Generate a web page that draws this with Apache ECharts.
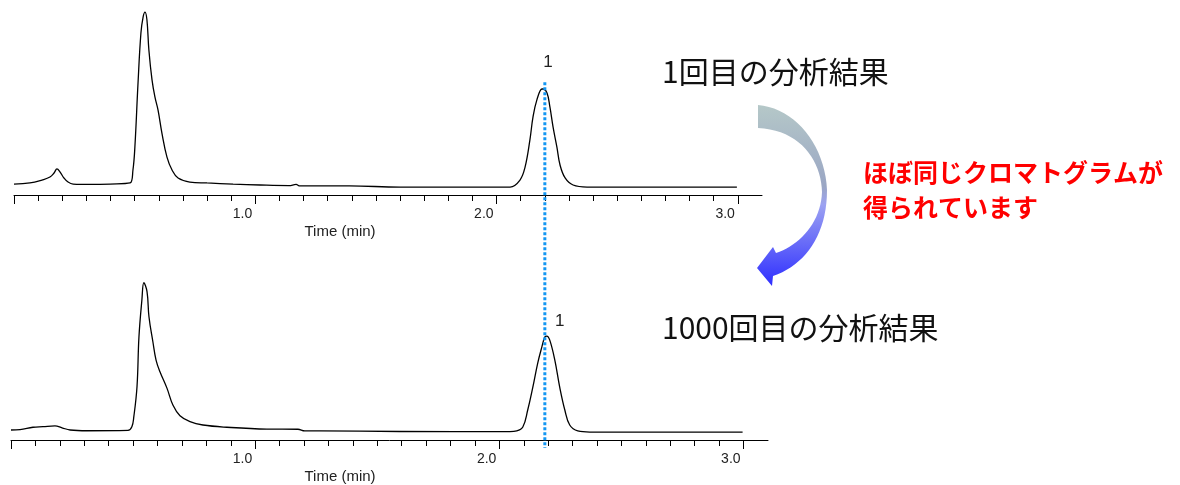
<!DOCTYPE html>
<html>
<head>
<meta charset="utf-8">
<script src="https://cdn.jsdelivr.net/npm/echarts@6/dist/echarts.min.js"></script>
<style>
html, body { margin: 0; padding: 0; background: #fff; }
#main { width: 1180px; height: 485px; }
</style>
</head>
<body>
<div id="main"></div>
<script>
// 1回目の分析 (時間 min / 信号)
var run1Time = [0.000, 0.066, 0.116, 0.149, 0.166, 0.178, 0.191, 0.207, 0.224, 0.245, 0.315, 0.398,
	0.481, 0.493, 0.501, 0.514, 0.526, 0.535, 0.543, 0.551, 0.559, 0.572, 0.584, 0.597, 0.613, 0.634,
	0.655, 0.680, 0.729, 0.800, 0.908, 1.020, 1.140, 1.169, 1.185, 1.390, 1.600, 2.010, 2.056, 2.097,
	2.118, 2.138, 2.151, 2.167, 2.188, 2.192, 2.209, 2.221, 2.234, 2.250, 2.263, 2.284, 2.317, 2.375, 2.996]
var run1Signal = [5.9, 6.5, 8.1, 9.7, 11.9, 14.1, 12.4, 9.2, 7.0, 5.9, 5.7, 5.9,
	6.5, 13.5, 25.9, 60.5, 87.6, 96.2, 98.9, 94.6, 78.4, 62.2, 53.0, 45.9, 33.5, 20.5,
	13.5, 9.2, 7.0, 6.5, 5.9, 5.4, 5.1, 5.7, 4.9, 4.9, 4.3, 4.3, 4.3, 8.1,
	15.1, 29.7, 42.2, 51.4, 57.3, 57.3, 55.1, 47.6, 36.8, 25.9, 16.2, 9.2, 5.4, 4.3, 4.3]

// 1000回目の分析
var run1000Time = [0.000, 0.037, 0.090, 0.131, 0.180, 0.209, 0.242, 0.311, 0.479, 0.495, 0.503, 0.516,
	0.524, 0.536, 0.544, 0.557, 0.565, 0.581, 0.594, 0.610, 0.639, 0.663, 0.692, 0.733, 0.786, 0.884,
	1.048, 1.175, 1.203, 1.265, 1.592, 2.043, 2.071, 2.096, 2.116, 2.137, 2.157, 2.174, 2.186, 2.194,
	2.206, 2.227, 2.247, 2.268, 2.288, 2.321, 2.370, 2.996]
var run1000Signal = [5.4, 5.6, 6.9, 7.2, 7.6, 6.6, 5.4, 5.0, 5.2, 7.2, 12.6, 28.8,
	55.8, 75.7, 85.0, 80.2, 66.6, 53.1, 43.2, 36.9, 27.9, 18.9, 13.1, 9.9, 8.1, 6.9,
	5.9, 5.8, 4.9, 4.9, 4.6, 4.5, 4.9, 7.0, 16.2, 28.6, 41.6, 50.3, 55.7, 56.2,
	54.1, 43.2, 28.6, 16.2, 8.1, 4.9, 4.3, 4.3]

// 目盛り
var majorTicks = [0, 1, 2, 3]
var tickLabels = [1, 2, 3]
var minorTicks = []
for (var i = 1; i < 30; i++) {
	if (i % 10 !== 0) minorTicks.push(i / 10)
}

// ピーク1
var peakLabel = '1'
var peak1 = [2.192, 57.3]
var peak1000 = [2.194, 56.2]
var peakLine = 2.2

function zip(a, b) {
	return a.map(function (v, i) { return [v, b[i]] })
}

function majorAxis(gridIndex, namePad) {
	return {
		type: 'value',
		gridIndex: gridIndex,
		position: 'bottom',
		min: 0,
		max: 3.1,
		axisLine: { show: true, onZero: false, lineStyle: { color: '#000', width: 1 } },
		axisTick: { show: true, customValues: majorTicks, length: 9, lineStyle: { color: '#000' } },
		axisLabel: {
			customValues: tickLabels,
			formatter: function (v) { return v.toFixed(1) },
			align: 'right',
			padding: [0, 3, 0, 0],
			margin: 12,
			fontSize: 14,
			color: '#222',
			fontFamily: 'Liberation Sans',
		},
		splitLine: { show: false },
		name: 'Time (min)',
		nameLocation: 'middle',
		nameGap: 29,
		nameTextStyle: { fontSize: 15, color: '#222', fontFamily: 'Liberation Sans', padding: [0, namePad, 0, 0] },
	}
}

function minorAxis(gridIndex) {
	return {
		type: 'value',
		gridIndex: gridIndex,
		position: 'bottom',
		min: 0,
		max: 3.1,
		axisLine: { show: false },
		axisTick: { show: true, customValues: minorTicks, length: 6, lineStyle: { color: '#000' } },
		axisLabel: { show: false },
		splitLine: { show: false },
	}
}

function trace(data, xi, yi, peak, offset) {
	return {
		type: 'line',
		xAxisIndex: xi,
		yAxisIndex: yi,
		data: data,
		showSymbol: false,
		smooth: 0.4,
		lineStyle: { color: '#000', width: 1.3 },
		markPoint: {
			symbol: 'circle',
			symbolSize: 0,
			label: {
				show: true,
				position: 'inside',
				formatter: peakLabel,
				offset: offset,
				fontSize: 17,
				color: '#222',
				fontFamily: 'Liberation Sans',
			},
			data: [{ coord: peak }],
		},
	}
}

var chart = echarts.init(document.getElementById('main'))
chart.setOption({
	animation: false,
	backgroundColor: '#fff',
	grid: [
		{ left: 14, right: 418, top: 10, height: 185 },
		{ left: 11, right: 412, top: 255, height: 185 },
	],
	xAxis: [majorAxis(0, 96), minorAxis(0), majorAxis(1, 99), minorAxis(1)],
	yAxis: [
		{ type: 'value', gridIndex: 0, min: 0, max: 100, show: false },
		{ type: 'value', gridIndex: 1, min: 0, max: 100, show: false },
	],
	series: [
		trace(zip(run1Time, run1Signal), 0, 0, peak1, [5, -27]),
		trace(zip(run1000Time, run1000Signal), 2, 1, peak1000, [13, -15]),
	],
})

// 曲がった矢印の輪郭 (ベジェ曲線を点に分ける)
function bezier(p0, p1, p2, p3, n) {
	var pts = []
	for (var k = 0; k <= n; k++) {
		var t = k / n, u = 1 - t
		pts.push([
			u * u * u * p0[0] + 3 * u * u * t * p1[0] + 3 * u * t * t * p2[0] + t * t * t * p3[0],
			u * u * u * p0[1] + 3 * u * u * t * p1[1] + 3 * u * t * t * p2[1] + t * t * t * p3[1],
		])
	}
	return pts
}
var arrowPoints = [].concat(
	bezier([758, 105], [795, 108], [825, 145], [827, 190], 20),
	bezier([827, 190], [827, 235], [805, 265], [773, 276], 20),
	[[772, 286], [757, 268], [773, 247], [776, 253]],
	bezier([776, 253], [800, 245], [821, 222], [822, 192], 20),
	bezier([822, 192], [821, 160], [800, 130], [758, 128], 20)
)

// 点線と注釈
var lineX = chart.convertToPixel({ xAxisIndex: 0 }, peakLine)
var lineTop = chart.convertToPixel({ yAxisIndex: 0 }, 61)
var lineBottom = chart.convertToPixel({ yAxisIndex: 1 }, 0) + 8

chart.setOption({
	graphic: [
		{
			type: 'line',
			shape: { x1: lineX, y1: lineTop, x2: lineX, y2: lineBottom },
			style: { stroke: '#1396F2', lineWidth: 3, lineDash: [3, 2] },
			z: 10,
		},
		{
			type: 'polygon',
			shape: { points: arrowPoints },
			style: {
				fill: {
					type: 'linear',
					x: 0, y: 0, x2: 0, y2: 1,
					colorStops: [
						{ offset: 0, color: '#B5C8C8' },
						{ offset: 0.45, color: '#9AA6C4' },
						{ offset: 0.55, color: '#9CA2F2' },
						{ offset: 1, color: '#2E2EFF' },
					],
				},
			},
		},
		{
			type: 'text',
			style: { x: 662, y: 72, text: '1回目の分析結果', fill: '#111', font: '30px "Noto Sans CJK JP"', verticalAlign: 'middle' },
		},
		{
			type: 'text',
			style: { x: 662, y: 328, text: '1000回目の分析結果', fill: '#111', font: '30px "Noto Sans CJK JP"', verticalAlign: 'middle' },
		},
		{
			type: 'text',
			style: { x: 863, y: 172, text: 'ほぼ同じクロマトグラムが', fill: '#FF0000', font: 'bold 25px "Noto Sans CJK JP"', verticalAlign: 'middle' },
		},
		{
			type: 'text',
			style: { x: 863, y: 207, text: '得られています', fill: '#FF0000', font: 'bold 25px "Noto Sans CJK JP"', verticalAlign: 'middle' },
		},
	],
})
</script>
</body>
</html>
